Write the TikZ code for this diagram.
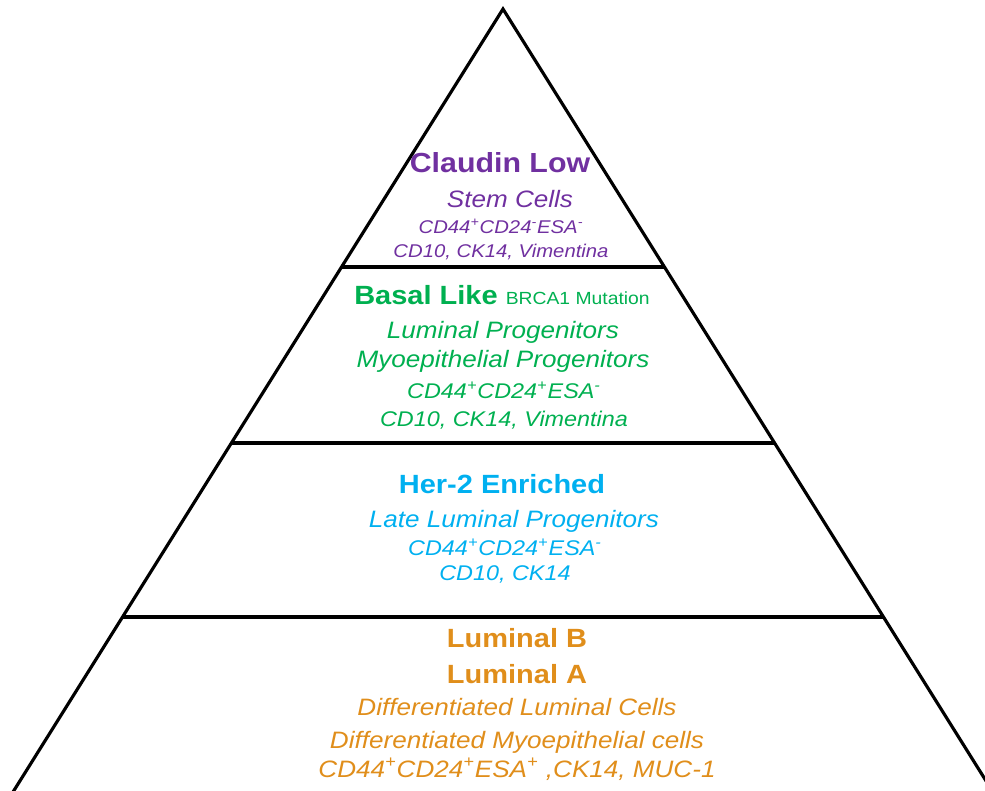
\documentclass[tikz,border=0pt]{standalone}
\usepackage{fontspec}
\setmainfont{Liberation Sans}[FakeStretch=1.1]
\usepackage{tikz}
\definecolor{morado}{HTML}{7030A0}
\definecolor{verde}{HTML}{00B050}
\definecolor{celeste}{HTML}{00B0F0}
\definecolor{naranja}{HTML}{E08E1B}
\begin{document}
\begin{tikzpicture}[x=0.02cm,y=-0.02cm,
    edge/.style={line width=1.8pt,line join=miter},
    ttl/.style={anchor=base,inner sep=0pt,font=\bfseries\fontsize{15}{18}\selectfont},
    sub/.style={anchor=base,inner sep=0pt,font=\itshape\fontsize{13.5}{16}\selectfont},
    cdl/.style={anchor=base,inner sep=0pt,font=\itshape\fontsize{12.1}{14}\selectfont},
    cds/.style={anchor=base,inner sep=0pt,font=\itshape\fontsize{10.5}{12}\selectfont}]
  \useasboundingbox (0,0) rectangle (985,791);
  \clip (0,0) rectangle (985,791);

  % pyramid
  \coordinate (apex) at (503,9);
  \draw[edge] (8,800) -- (apex) -- (998,800);
  \foreach \y in {267,443,617}{
    \draw[edge] ({503-0.627*(\y-9)},\y) -- ({503+0.627*(\y-9)},\y);
  }

  % claudin low
  \node[ttl,text=morado,font=\bfseries\fontsize{15.7}{18}\selectfont] (cl) at (500,172) {Claudin Low};
  \node[sub,text=morado] (clA) at (510,207) {Stem Cells};
  \node[cds,text=morado] (clB) at (501,233) {CD44\textsuperscript{+}CD24\textsuperscript{-}ESA\textsuperscript{-}};
  \node[cds,text=morado] (clC) at (501,257) {CD10, CK14, Vimentina};

  % basal like
  \node[ttl,text=verde] (bl) at (502,304)
    {Basal Like {\mdseries\fontsize{10}{12}\selectfont BRCA1 Mutation}};
  \node[sub,text=verde] (blA) at (503,338) {Luminal Progenitors};
  \node[sub,text=verde] (blB) at (503,367) {Myoepithelial Progenitors};
  \node[cdl,text=verde] (blC) at (504,398) {CD44\textsuperscript{+}CD24\textsuperscript{+}ESA\textsuperscript{-}};
  \node[cdl,text=verde] (blD) at (504,426) {CD10, CK14, Vimentina};

  % her-2
  \node[ttl,text=celeste] (he) at (502,493) {Her-2 Enriched};
  \node[sub,text=celeste] (heA) at (514,527) {Late Luminal Progenitors};
  \node[cdl,text=celeste] (heB) at (505,555) {CD44\textsuperscript{+}CD24\textsuperscript{+}ESA\textsuperscript{-}};
  \node[cdl,text=celeste] (heC) at (505,580) {CD10, CK14};

  % luminal
  \node[ttl,text=naranja] (lb) at (517,647) {Luminal B};
  \node[ttl,text=naranja] (la) at (517,683) {Luminal A};
  \node[sub,text=naranja] (luA) at (517,715) {Differentiated Luminal Cells};
  \node[sub,text=naranja] (luB) at (517,748) {Differentiated Myoepithelial cells};
  \node[sub,text=naranja] (luC) at (517,777)
    {CD44\textsuperscript{+}CD24\textsuperscript{+}ESA\textsuperscript{+} ,CK14, MUC-1};
\end{tikzpicture}
\end{document}
